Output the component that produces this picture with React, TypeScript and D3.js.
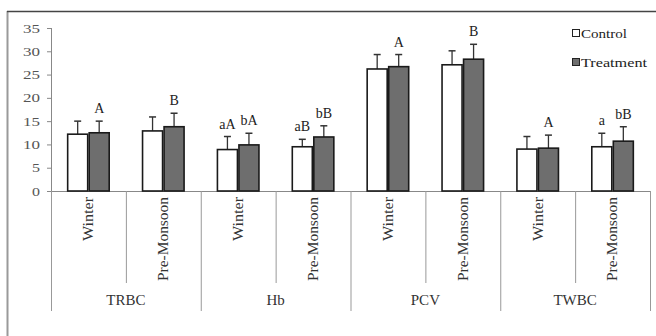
import React from "react";
import * as d3 from "d3";

const groups = ["TRBC", "Hb", "PCV", "TWBC"];
const seasons = ["Winter", "Pre-Monsoon"];
const seriesNames = ["Control", "Treatment"];
// values per group×season (order: TRBC-W, TRBC-P, Hb-W, Hb-P, PCV-W, PCV-P, TWBC-W, TWBC-P)
const controlMeans = [12.2, 12.9, 8.9, 9.5, 26.2, 27.1, 9.0, 9.5];
const treatmentMeans = [12.5, 13.8, 9.9, 11.6, 26.7, 28.3, 9.2, 10.7];
const controlErr = [2.8, 3.0, 2.8, 1.6, 3.1, 3.0, 2.7, 2.9];
const treatmentErr = [2.5, 2.9, 2.5, 2.4, 2.6, 3.2, 2.8, 3.1];
// significance letters: [category index, series index, label]
const letters: [number, number, string][] = [
  [0, 1, "A"],
  [1, 1, "B"],
  [2, 0, "aA"],
  [2, 1, "bA"],
  [3, 0, "aB"],
  [3, 1, "bB"],
  [4, 1, "A"],
  [5, 1, "B"],
  [6, 1, "A"],
  [7, 0, "a"],
  [7, 1, "bB"],
];
const yTicks = [0, 5, 10, 15, 20, 25, 30, 35];

const W = 656;
const H = 336;
const FONT = "Liberation Serif, Times New Roman, Times, serif";

export default function App() {
  const left = 51;
  const right = 650;
  const y0 = 191;
  const yTop = 28;
  const cats = d3.range(groups.length * seasons.length);
  const x = d3.scaleBand<number>().domain(cats).range([left, right]).paddingInner(0).paddingOuter(0);
  const xs = d3
    .scaleBand<string>()
    .domain(seriesNames)
    .range([0, x.bandwidth()])
    .paddingInner(0)
    .paddingOuter(0.74);
  const y = d3.scaleLinear().domain([0, 35]).range([y0, yTop]);
  const means = [controlMeans, treatmentMeans];
  const errs = [controlErr, treatmentErr];
  const fills = ["#ffffff", "#6e6e6e"];
  const step = x.step();

  return (
    <svg
      width={W}
      height={H}
      style={{ position: "absolute", left: 0, top: 0, background: "#fff", fontFamily: FONT }}
    >
      {/* frame */}
      <line x1={7.5} x2={7.5} y1={11} y2={336} stroke="#9a9a9a" strokeWidth={2} />
      <line x1={7} x2={656} y1={11.5} y2={11.5} stroke="#444" strokeWidth={1.6} />

      {/* y axis */}
      <line x1={left + 0.5} x2={left + 0.5} y1={yTop} y2={y0} stroke="#888" />
      {yTicks.map((t) => (
        <g key={t}>
          <line x1={left - 4} x2={left} y1={y(t) + 0.5} y2={y(t) + 0.5} stroke="#888" />
          <text
            x={40}
            y={y(t) + 4.5}
            textAnchor="end"
            fontSize={13}
            fill="#555"
            textLength={t < 10 ? 8 : 17}
            lengthAdjust="spacingAndGlyphs"
          >
            {t}
          </text>
        </g>
      ))}

      {/* x axis line */}
      <line x1={left} x2={right} y1={y0 + 0.5} y2={y0 + 0.5} stroke="#888" />

      {/* separators */}
      {d3.range(cats.length + 1).map((i) => {
        const xx = left + i * step;
        const long = i % 2 === 0;
        return (
          <line
            key={i}
            x1={xx + 0.5}
            x2={xx + 0.5}
            y1={y0}
            y2={long ? 311 : 283}
            stroke="#999"
          />
        );
      })}

      {/* bars */}
      {cats.map((c) =>
        seriesNames.map((s, si) => {
          const v = means[si][c];
          const e = errs[si][c];
          const bx = (x(c) as number) + (xs(s) as number);
          const bw = xs.bandwidth();
          const cx = bx + bw / 2;
          return (
            <g key={c + s}>
              <line x1={cx} x2={cx} y1={y(v)} y2={y(v + e)} stroke="#333" strokeWidth={1.3} />
              <line x1={cx - 3.5} x2={cx + 3.5} y1={y(v + e)} y2={y(v + e)} stroke="#333" strokeWidth={1.5} />
              <rect
                x={bx + 0.75}
                y={y(v)}
                width={bw - 1.5}
                height={y0 - y(v)}
                fill={fills[si]}
                stroke="#1a1a1a"
                strokeWidth={1.6}
              />
            </g>
          );
        })
      )}

      {/* letters */}
      {letters.map(([c, si, lab], i) => {
        const s = seriesNames[si];
        const cx = (x(c) as number) + (xs(s) as number) + xs.bandwidth() / 2;
        const top = y(means[si][c] + errs[si][c]);
        return (
          <text key={i} x={cx} y={top - 8} textAnchor="middle" fontSize={14} fill="#222">
            {lab}
          </text>
        );
      })}

      {/* season labels */}
      {cats.map((c) => {
        const cx = (x(c) as number) + step / 2;
        const lab = seasons[c % 2];
        return (
          <text
            key={c}
            transform={`translate(${cx},197) rotate(-90)`}
            textAnchor="end"
            dy="0.35em"
            fontSize={14}
            fill="#333"
            textLength={lab === "Winter" ? 44 : 84}
            lengthAdjust="spacingAndGlyphs"
          >
            {lab}
          </text>
        );
      })}

      {/* group labels */}
      {groups.map((g, gi) => {
        const cx = left + (gi * 2 + 1) * step;
        return (
          <text key={g} x={cx} y={305} textAnchor="middle" fontSize={15} fill="#333">
            {g}
          </text>
        );
      })}

      {/* legend */}
      {seriesNames.map((s, si) => (
        <g key={s}>
          <rect
            x={572.5}
            y={29.5 + si * 29}
            width={7}
            height={7}
            fill={fills[si]}
            stroke="#222"
            strokeWidth={1}
          />
          <text
            x={581}
            y={37.5 + si * 29}
            fontSize={13}
            fill="#222"
            textLength={si === 0 ? 46 : 66}
            lengthAdjust="spacingAndGlyphs"
          >
            {s}
          </text>
        </g>
      ))}
    </svg>
  );
}
